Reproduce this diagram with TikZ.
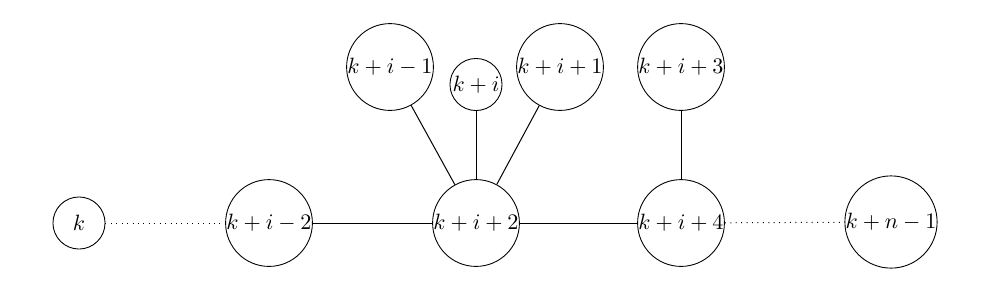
\documentclass[tikz,border=0pt]{standalone}
\begin{document}
\begin{tikzpicture}[x=0.4513pt,y=-0.4513pt,
  vtx/.style={draw,circle,inner sep=0pt,minimum size=23.5pt,line width=0.4pt},
  edge/.style={line width=0.45pt},
  dotedge/.style={line width=0.45pt,dotted}]
\useasboundingbox (0,0) rectangle (992,288);
\node[vtx] (k) at (79,223) {$k$};
\node[vtx] (a) at (269,223) {$k+i-2$};
\node[vtx] (b) at (476,223) {$k+i+2$};
\node[vtx] (c) at (681,223) {$k+i+4$};
\node[vtx] (d) at (891,222) {$k+n-1$};
\node[vtx] (u1) at (390,67) {$k+i-1$};
\node[vtx] (u2) at (476,84.5) {$k+i$};
\node[vtx] (u3) at (560,67) {$k+i+1$};
\node[vtx] (u4) at (681,67) {$k+i+3$};
\draw[dotedge] (k) -- (a);
\draw[edge] (a) -- (b);
\draw[edge] (b) -- (c);
\draw[dotedge] (c) -- (d);
\draw[edge] (u1) -- (b);
\draw[edge] (u2) -- (b);
\draw[edge] (u3) -- (b);
\draw[edge] (u4) -- (c);
\end{tikzpicture}
\end{document}
